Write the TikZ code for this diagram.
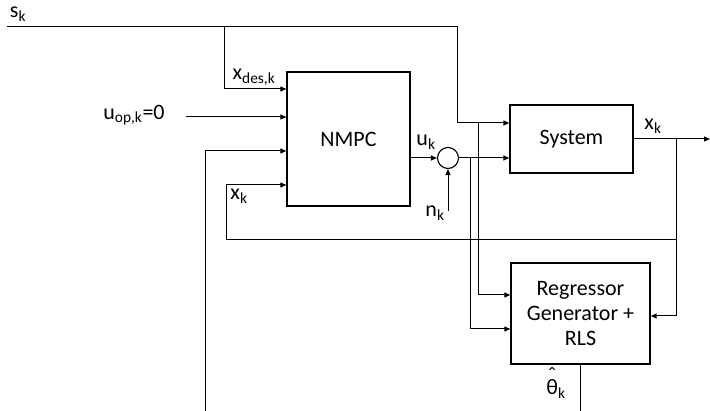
\documentclass[tikz,border=0pt]{standalone}
\usepackage{fontspec}
\setmainfont{Carlito}
\usetikzlibrary{arrows.meta}
\newcommand{\sbs}[1]{\textsubscript{#1}}
\newcommand{\thetahat}{\ooalign{θ\cr\hidewidth\raisebox{0.55em}{ˆ}\hidewidth\cr}}
\begin{document}
\begin{tikzpicture}[x=1pt,y=-1pt,
  every node/.style={font=\fontsize{22}{25}\selectfont},
  blk/.style={draw,line width=1.3pt,inner sep=0pt,align=center},
  wire/.style={line width=1pt},
  arr/.style={wire,-{Triangle[length=6pt,width=5pt]}},
  lbl/.style={inner sep=0pt}]
\useasboundingbox (0,0) rectangle (710,411);
% blocks
\node[blk,minimum width=123pt,minimum height=134pt] (nmpc) at (348.5,139) {NMPC};
\node[blk,minimum width=123pt,minimum height=68pt] (sys) at (571.5,139) {System};
\node[blk,minimum width=139pt,minimum height=101pt] (reg) at (580.5,313.5) {Regressor\\Generator +\\RLS};
\node[draw,circle,line width=1.1pt,minimum size=21pt,inner sep=0pt] (sum) at (448,158) {};
% free ends
\coordinate (s0) at (7,27);
\coordinate (sd) at (457,123);
\coordinate (b1) at (224,27);
\coordinate (uop) at (186,117);
\coordinate (th0) at (205,411);
\coordinate (xo) at (676,139);
\coordinate (xf) at (676,240);
\coordinate (xfl) at (226,240);
\coordinate (nk) at (448,211);
\coordinate (v1) at (470,158);
\coordinate (v2) at (478,123);
\coordinate (out) at (710,139);
\coordinate (thb) at (580.5,411);
% connectors
\draw[arr] (s0) -| (sd) -- (sys.west |- sd);
\draw[arr] (b1) |- (nmpc.west |- 0,89);
\draw[arr] (uop) -- (nmpc.west |- uop);
\draw[arr] (th0) |- (nmpc.west |- 0,151);
\draw[wire] (xf) -- (xfl);
\draw[arr] (xfl) |- (nmpc.west |- 0,185);
\draw[arr] (nmpc.east |- sum) -- (sum.west);
\draw[arr] (nk) -- (sum.south);
\draw[arr] (sum.east) -- (sys.west |- sum);
\draw[arr] (v1) |- (reg.west |- 0,329);
\draw[arr] (v2) |- (reg.west |- 0,295);
\draw[arr] (sys.east) -- (out);
\draw[arr] (xo) |- (reg.east |- 0,316);
\draw[wire] (reg.south) -- (thb);
% labels
\node[lbl] (lsk) at (18,14) {s\sbs{k}};
\node[lbl] (lxd) at (254,77) {x\sbs{des,k}};
\node[lbl] (luop) at (134,115) {u\sbs{op,k}=0};
\node[lbl] (lxk) at (239,196) {x\sbs{k}};
\node[lbl] (luk) at (426,142) {u\sbs{k}};
\node[lbl] (lnk) at (435,213) {n\sbs{k}};
\node[lbl] (lxo) at (653,126) {x\sbs{k}};
\node[lbl] (lth) at (556,389) {\thetahat\sbs{k}};
\end{tikzpicture}
\end{document}
